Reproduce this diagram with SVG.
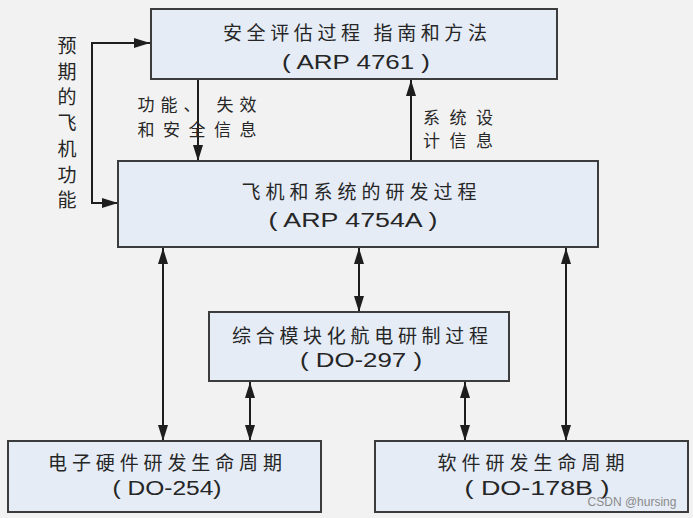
<svg xmlns="http://www.w3.org/2000/svg" width="693" height="518" viewBox="0 0 693 518">
<style>
.box{fill:#e5ecf6;stroke:#3c3c3c;stroke-width:2}
.t{font-family:"Noto Sans CJK SC","Microsoft YaHei",sans-serif;fill:#262626;text-anchor:middle}
.n{font-size:19px}
.s{font-family:"Liberation Sans",Arial,sans-serif;font-size:20px;fill:#262626;text-anchor:middle}
.l{font-size:17px}
.c{stroke:#1e1e1e;stroke-width:2;fill:none}
</style>
<defs>
<marker id="ah" viewBox="0 0 16 10" refX="16" refY="5" markerWidth="16" markerHeight="10" markerUnits="userSpaceOnUse" orient="auto-start-reverse">
<path d="M0,0 L16,5 L0,10 Z" fill="#1e1e1e"/>
</marker>
</defs>
<rect width="693" height="518" fill="#f2f2f2"/>
<g id="connectors">
<polyline class="c" points="150,43 92,43 92,203 118,203" marker-start="url(#ah)" marker-end="url(#ah)"/>
<line class="c" x1="198" y1="80" x2="198" y2="161" marker-end="url(#ah)"/>
<line class="c" x1="411" y1="161" x2="411" y2="80" marker-end="url(#ah)"/>
<line class="c" x1="163" y1="248" x2="163" y2="441" marker-start="url(#ah)" marker-end="url(#ah)"/>
<line class="c" x1="359" y1="248" x2="359" y2="312" marker-start="url(#ah)" marker-end="url(#ah)"/>
<line class="c" x1="250" y1="382" x2="250" y2="441" marker-start="url(#ah)" marker-end="url(#ah)"/>
<line class="c" x1="465" y1="382" x2="465" y2="441" marker-start="url(#ah)" marker-end="url(#ah)"/>
<line class="c" x1="566" y1="248" x2="566" y2="441" marker-start="url(#ah)" marker-end="url(#ah)"/>
<text class="t l" x="197" y="111" textLength="119" lengthAdjust="spacing">功能、 失效</text>
<text class="t l" x="197" y="136" textLength="119" lengthAdjust="spacing">和安全信息</text>
<text class="t l" x="458" y="124" textLength="70" lengthAdjust="spacing">系统设</text>
<text class="t l" x="458" y="147" textLength="70" lengthAdjust="spacing">计信息</text>
<text class="t" style="font-size:19px">
<tspan x="67" y="53">预</tspan><tspan x="67" y="79">期</tspan><tspan x="67" y="104">的</tspan><tspan x="67" y="130">飞</tspan><tspan x="67" y="156">机</tspan><tspan x="67" y="182">功</tspan><tspan x="67" y="207">能</tspan>
</text>
</g>
<g id="arp4761">
<rect class="box" x="151" y="9" width="406" height="70"/>
<text class="t n" x="355" y="40" textLength="264" lengthAdjust="spacing">安全评估过程 指南和方法</text>
<text class="s" x="356" y="69" textLength="148" lengthAdjust="spacingAndGlyphs">( ARP 4761 )</text>
</g>
<g id="arp4754a">
<rect class="box" x="118" y="161" width="480" height="86"/>
<text class="t n" x="359" y="199" textLength="235" lengthAdjust="spacing">飞机和系统的研发过程</text>
<text class="s" x="353" y="227" textLength="169" lengthAdjust="spacingAndGlyphs">( ARP 4754A )</text>
</g>
<g id="do297">
<rect class="box" x="209" y="312" width="300" height="69"/>
<text class="t n" x="360" y="343" textLength="256" lengthAdjust="spacing">综合模块化航电研制过程</text>
<text class="s" x="361" y="367" textLength="122" lengthAdjust="spacingAndGlyphs">( DO-297 )</text>
</g>
<g id="do254">
<rect class="box" x="8" y="441" width="313" height="71"/>
<text class="t n" x="165" y="470" textLength="234" lengthAdjust="spacing">电子硬件研发生命周期</text>
<text class="s" x="167" y="495" textLength="109" lengthAdjust="spacingAndGlyphs">( DO-254)</text>
</g>
<g id="do178b">
<rect class="box" x="375" y="441" width="313" height="71"/>
<text class="t n" x="531" y="470" textLength="187" lengthAdjust="spacing">软件研发生命周期</text>
<text class="s" x="537" y="495" textLength="145" lengthAdjust="spacingAndGlyphs">( DO-178B )</text>
</g>
<text x="632" y="506" style="font-family:'Liberation Sans',sans-serif;font-size:12px;fill:#8a8a8a;text-anchor:middle">CSDN @hursing</text>
</svg>
